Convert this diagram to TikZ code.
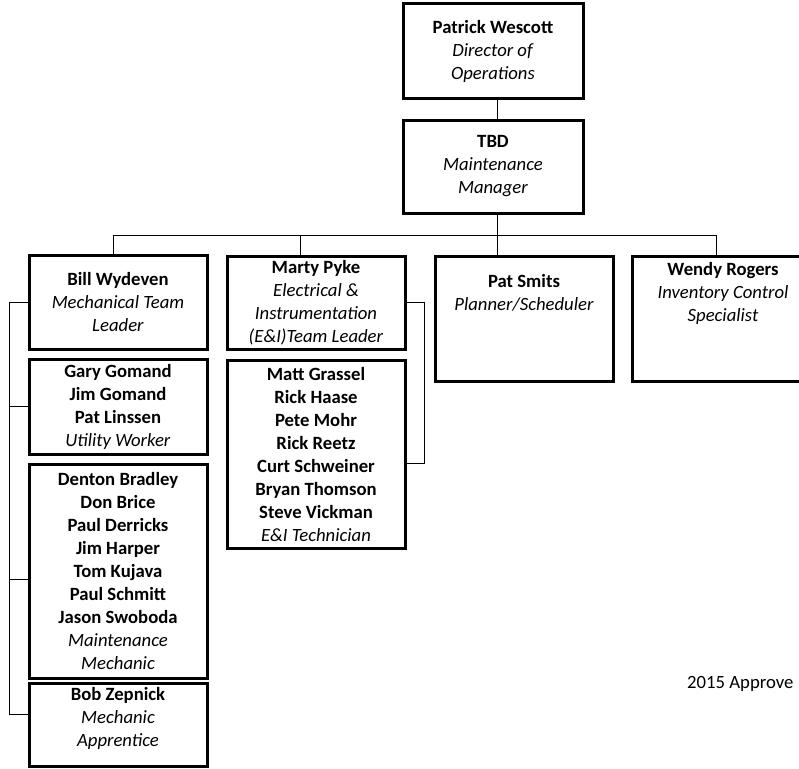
\documentclass[tikz,border=0pt]{standalone}
\usepackage{fontspec}
\setmainfont{Carlito}
\usetikzlibrary{positioning}

\begin{document}
\begin{tikzpicture}[x=1pt, y=-1pt,
    box/.style={draw, line width=3pt, minimum width=178pt, inner sep=0pt, align=center,
        font=\fontsize{18.7}{23}\selectfont},
    txt/.style={align=center, inner sep=0pt, font=\fontsize{18.7}{23}\selectfont},
    link/.style={line width=1pt}]
    \useasboundingbox (0, 0) rectangle (799, 768);
    \clip (0, 0) rectangle (799, 768);
    % top of the chart
    \node[box, minimum width=180pt, minimum height=94pt] (dir) at (493, 51)
        {\textbf{Patrick Wescott}\\\textit{Director of}\\\textit{Operations}};
    \node[box, minimum width=180pt, minimum height=93pt] (mgr) at (493, 166.5)
        {\textbf{TBD}\\\textit{Maintenance}\\\textit{Manager}};
    % mechanical team
    \node[box, minimum height=94pt] (bill) at (118, 302)
        {\textbf{Bill Wydeven}\\\textit{Mechanical Team}\\\textit{Leader}};
    \node[box, minimum height=95pt] (gary) at (118, 406.5)
        {\textbf{Gary Gomand}\\\textbf{Jim Gomand}\\\textbf{Pat Linssen}\\\textit{Utility Worker}};
    \node[box, minimum height=214pt] (denton) at (118, 571)
        {\textbf{Denton Bradley}\\\textbf{Don Brice}\\\textbf{Paul Derricks}\\\textbf{Jim Harper}\\
         \textbf{Tom Kujava}\\\textbf{Paul Schmitt}\\\textbf{Jason Swoboda}\\
         \textit{Maintenance}\\\textit{Mechanic}};
    \node[box, minimum height=83pt] (bob) at (118, 724.5) {};
    \node[txt] (bob-t) at (118, 718) {\textbf{Bob Zepnick}\\\textit{Mechanic}\\\textit{Apprentice}};
    % E&I team
    \node[box, minimum height=93pt] (marty) at (316, 302.5)
        {\textbf{Marty Pyke}\\\textit{Electrical \&}\\\textit{Instrumentation}\\\textit{(E\&I)Team Leader}};
    \node[box, minimum height=188pt] (matt) at (316, 454)
        {\textbf{Matt Grassel}\\\textbf{Rick Haase}\\\textbf{Pete Mohr}\\\textbf{Rick Reetz}\\
         \textbf{Curt Schweiner}\\\textbf{Bryan Thomson}\\\textbf{Steve Vickman}\\
         \textit{E\&I Technician}};
    % planner and stores
    \node[box, minimum height=125pt] (smits) at (524, 318.5) {};
    \node[txt] (smits-t) at (524, 293) {\textbf{Pat Smits}\\\textit{Planner/Scheduler}};
    \node[box, minimum height=125pt] (wendy) at (721, 318.5) {};
    \node[txt] (wendy-t) at (723, 293) {\textbf{Wendy Rogers}\\\textit{Inventory Control}\\\textit{Specialist}};
    \node[anchor=base west, inner sep=0pt, font=\fontsize{18.7}{23}\selectfont] (stamp) at (687, 688) {2015 Approve};

    % bus and drops
    \coordinate (busL) at (113, 235);
    \coordinate (busM) at (300, 235);
    \coordinate (busC) at (497, 235);
    \coordinate (busR) at (716, 235);
    \draw[link] (dir.south -| busC) -- (mgr.north -| busC);
    \draw[link] (mgr.south -| busC) -- (smits.north -| busC);
    \draw[link] (busL) -- (busR);
    \draw[link] (busL) -- (busL |- bill.north);
    \draw[link] (busM) -- (busM |- marty.north);
    \draw[link] (busR) -- (busR |- wendy.north);

    % side rails
    \coordinate (railL) at (9, 0);
    \coordinate (railR) at (424, 0);
    \coordinate (dentonIn) at ([yshift=-8pt]denton.west);
    \coordinate (bobIn) at ([yshift=10pt]bob.west);
    \coordinate (mattIn) at ([yshift=-9pt]matt.east);
    \draw[link] (bill.west) -| (bobIn -| railL) -- (bobIn);
    \draw[link] (gary.west) -- (gary.west -| railL);
    \draw[link] (dentonIn) -- (dentonIn -| railL);
    \draw[link] (marty.east) -| (mattIn -| railR) -- (mattIn);
\end{tikzpicture}
\end{document}
